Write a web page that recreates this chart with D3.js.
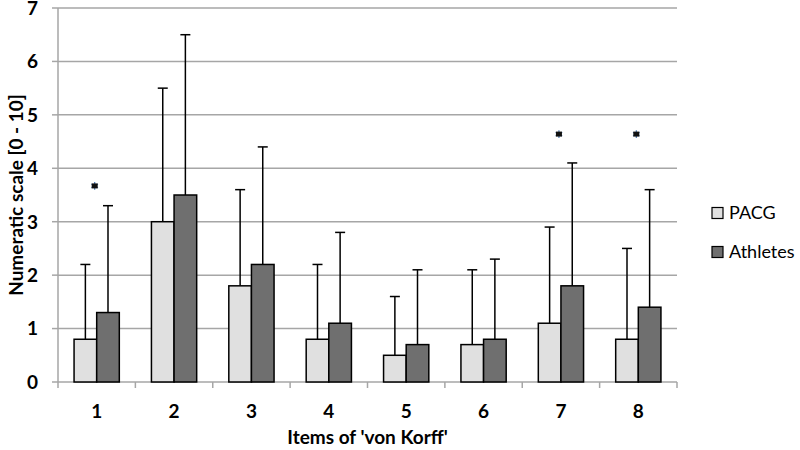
<!DOCTYPE html>
<html>
<head>
<meta charset="utf-8">
<script src="https://cdn.jsdelivr.net/npm/d3@7"></script>
<style>
  body { margin: 0; background: #fff; }
  text { font-family: Lato, "Open Sans", sans-serif; }
</style>
</head>
<body>
<div id="chart"></div>
<script>
// items of the questionnaire and the two groups
var items = ["1", "2", "3", "4", "5", "6", "7", "8"];
var series = ["PACG", "Athletes"];

// mean values and upper end of the error bars (mean + SD)
var pacgMean = [0.8, 3.0, 1.8, 0.8, 0.5, 0.7, 1.1, 0.8];
var pacgTop = [2.2, 5.5, 3.6, 2.2, 1.6, 2.1, 2.9, 2.5];
var athMean = [1.3, 3.5, 2.2, 1.1, 0.7, 0.8, 1.8, 1.4];
var athTop = [3.3, 6.5, 4.4, 2.8, 2.1, 2.3, 4.1, 3.6];

// significance markers (item, y value)
var sigItems = ["1", "7", "8"];
var sigValues = [3.67, 4.64, 4.64];

var yTicks = [0, 1, 2, 3, 4, 5, 6, 7];

var width = 800;
var height = 450;
var margin = { left: 58, right: 123, top: 8, bottom: 68 };

var colors = { PACG: "#e0e0e0", Athletes: "#6f6f6f" };

var svg = d3.select("#chart")
  .append("svg")
  .attr("width", width)
  .attr("height", height);

var xScale = d3.scaleBand()
  .domain(items)
  .range([margin.left, width - margin.right]);

// inner scale for the two bars inside each item
var xInner = d3.scaleBand()
  .domain(series)
  .range([0, xScale.bandwidth()])
  .paddingOuter(0.71)
  .paddingInner(0);

var yScale = d3.scaleLinear()
  .domain([0, 7])
  .range([height - margin.bottom, margin.top]);

// gridlines
svg.append("g")
  .selectAll("line")
  .data(yTicks)
  .enter()
  .append("line")
  .attr("x1", margin.left)
  .attr("x2", width - margin.right)
  .attr("y1", d => yScale(d))
  .attr("y2", d => yScale(d))
  .attr("stroke", "#a6a6a6")
  .attr("stroke-width", 1.5);

// left axis line
svg.append("line")
  .attr("x1", margin.left)
  .attr("x2", margin.left)
  .attr("y1", yScale(0))
  .attr("y2", yScale(7))
  .attr("stroke", "#a6a6a6")
  .attr("stroke-width", 1.5);

// small tick marks on y axis
svg.append("g")
  .selectAll("line")
  .data(yTicks)
  .enter()
  .append("line")
  .attr("x1", margin.left - 6)
  .attr("x2", margin.left)
  .attr("y1", d => yScale(d))
  .attr("y2", d => yScale(d))
  .attr("stroke", "#a6a6a6")
  .attr("stroke-width", 1.5);

// tick marks on x axis at band boundaries
var xBounds = items.map(d => xScale(d)).concat([xScale(items[items.length - 1]) + xScale.bandwidth()]);
svg.append("g")
  .selectAll("line")
  .data(xBounds)
  .enter()
  .append("line")
  .attr("x1", d => d)
  .attr("x2", d => d)
  .attr("y1", yScale(0))
  .attr("y2", yScale(0) + 6)
  .attr("stroke", "#a6a6a6")
  .attr("stroke-width", 1.5);

// y tick labels
svg.append("g")
  .selectAll("text")
  .data(yTicks)
  .enter()
  .append("text")
  .attr("x", 38)
  .attr("y", d => yScale(d))
  .attr("dy", "0.36em")
  .attr("text-anchor", "end")
  .style("font-size", "19px")
  .style("font-weight", "bold")
  .text(d => d);

// x tick labels
svg.append("g")
  .selectAll("text")
  .data(items)
  .enter()
  .append("text")
  .attr("x", d => xScale(d) + xScale.bandwidth() / 2)
  .attr("y", 418)
  .attr("text-anchor", "middle")
  .style("font-size", "19px")
  .style("font-weight", "bold")
  .text(d => d);

// build rows for bars
var rows = [];
items.forEach(function (item, i) {
  rows.push({ item: item, s: "PACG", v: pacgMean[i], top: pacgTop[i] });
  rows.push({ item: item, s: "Athletes", v: athMean[i], top: athTop[i] });
});

// error bars (upper only)
var eb = svg.append("g");
eb.selectAll("line.v")
  .data(rows)
  .enter()
  .append("line")
  .attr("x1", d => xScale(d.item) + xInner(d.s) + xInner.bandwidth() / 2)
  .attr("x2", d => xScale(d.item) + xInner(d.s) + xInner.bandwidth() / 2)
  .attr("y1", d => yScale(d.v))
  .attr("y2", d => yScale(d.top))
  .attr("stroke", "#000")
  .attr("stroke-width", 1.5);
eb.selectAll("line.cap")
  .data(rows)
  .enter()
  .append("line")
  .attr("x1", d => xScale(d.item) + xInner(d.s) + xInner.bandwidth() / 2 - 5)
  .attr("x2", d => xScale(d.item) + xInner(d.s) + xInner.bandwidth() / 2 + 5)
  .attr("y1", d => yScale(d.top))
  .attr("y2", d => yScale(d.top))
  .attr("stroke", "#000")
  .attr("stroke-width", 1.5);

// bars
svg.append("g")
  .selectAll("rect")
  .data(rows)
  .enter()
  .append("rect")
  .attr("x", d => xScale(d.item) + xInner(d.s))
  .attr("y", d => yScale(d.v))
  .attr("width", xInner.bandwidth())
  .attr("height", d => yScale(0) - yScale(d.v))
  .attr("fill", d => colors[d.s])
  .attr("stroke", "#000")
  .attr("stroke-width", 1.5);

// significance markers
var star = d3.symbol().type(d3.symbolAsterisk || d3.symbolCross).size(40);
svg.append("g")
  .selectAll("path")
  .data(sigItems)
  .enter()
  .append("path")
  .attr("d", star)
  .attr("transform", (d, i) => "translate(" + (xScale(d) + xScale.bandwidth() / 2 - 2) + "," + yScale(sigValues[i]) + ")")
  .attr("fill", "#1a1a2e")
  .attr("stroke", "#4a7ab5")
  .attr("stroke-width", 1.2);
svg.append("g")
  .selectAll("rect")
  .data(sigItems)
  .enter()
  .append("rect")
  .attr("x", (d, i) => xScale(d) + xScale.bandwidth() / 2 - 5)
  .attr("y", (d, i) => yScale(sigValues[i]) - 2.5)
  .attr("width", 6)
  .attr("height", 5)
  .attr("fill", "#111");

// legend
var legend = svg.append("g");
series.forEach(function (s, i) {
  var y = 213 + i * 39;
  legend.append("rect")
    .attr("x", 712)
    .attr("y", y - 5.5)
    .attr("width", 11)
    .attr("height", 11)
    .attr("fill", colors[s])
    .attr("stroke", "#000")
    .attr("stroke-width", 1.2);
  legend.append("text")
    .attr("x", 729)
    .attr("y", y)
    .attr("dy", "0.36em")
    .style("font-size", "18px")
    .text(s);
});

// axis titles
svg.append("text")
  .attr("x", (margin.left + width - margin.right) / 2)
  .attr("y", 444)
  .attr("text-anchor", "middle")
  .style("font-size", "19px")
  .style("font-weight", "bold")
  .text("Items of 'von Korff'");

svg.append("text")
  .attr("transform", "translate(16," + yScale(3.5) + ") rotate(-90)")
  .attr("dy", "0.35em")
  .attr("text-anchor", "middle")
  .style("font-size", "19px")
  .style("font-weight", "bold")
  .text("Numeratic scale [0 - 10]");
</script>
</body>
</html>
